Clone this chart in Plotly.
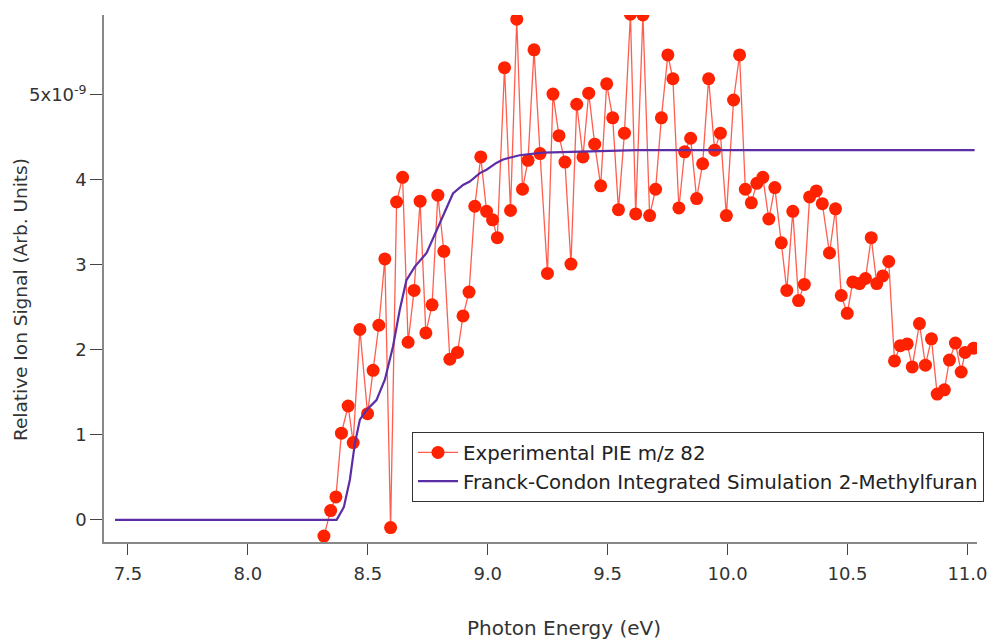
import plotly.graph_objects as go

# Experimental PIE m/z 82 (signal in units of 1e-9)
exp_energy = [8.317, 8.345, 8.367, 8.390, 8.418, 8.439, 8.467, 8.499, 8.522, 8.546,
              8.571, 8.595, 8.620, 8.645, 8.668, 8.693, 8.718, 8.742, 8.768, 8.792,
              8.817, 8.842, 8.874, 8.897, 8.922, 8.946, 8.971, 8.995, 9.020, 9.040,
              9.070, 9.095, 9.121, 9.145, 9.168, 9.193, 9.218, 9.249, 9.272, 9.297,
              9.322, 9.347, 9.371, 9.397, 9.421, 9.446, 9.471, 9.496, 9.521, 9.545,
              9.570, 9.595, 9.617, 9.647, 9.675, 9.700, 9.724, 9.751, 9.772, 9.797,
              9.821, 9.846, 9.871, 9.896, 9.921, 9.946, 9.970, 9.995, 10.025, 10.050,
              10.074, 10.099, 10.122, 10.147, 10.172, 10.197, 10.224, 10.247, 10.272, 10.296,
              10.320, 10.342, 10.370, 10.395, 10.425, 10.450, 10.474, 10.499, 10.522, 10.550,
              10.575, 10.599, 10.622, 10.647, 10.672, 10.696, 10.720, 10.749, 10.770, 10.800,
              10.825, 10.850, 10.874, 10.904, 10.925, 10.950, 10.974, 10.990, 11.026]
exp_signal = [-0.19, 0.11, 0.27, 1.02, 1.34, 0.91, 2.24, 1.25, 1.76, 2.29,
              3.07, -0.09, 3.74, 4.03, 2.09, 2.70, 3.75, 2.20, 2.53, 3.82,
              3.16, 1.89, 1.97, 2.40, 2.68, 3.69, 4.27, 3.63, 3.53, 3.32,
              5.32, 3.64, 5.89, 3.89, 4.23, 5.53, 4.31, 2.90, 5.01, 4.52,
              4.21, 3.01, 4.89, 4.27, 5.02, 4.42, 3.93, 5.13, 4.73, 3.65,
              4.55, 5.95, 3.60, 5.94, 3.58, 3.89, 4.73, 5.47, 5.19, 3.67,
              4.33, 4.49, 3.78, 4.19, 5.19, 4.35, 4.55, 3.58, 4.94, 5.47,
              3.89, 3.73, 3.96, 4.03, 3.54, 3.91, 3.26, 2.70, 3.63, 2.58,
              2.77, 3.80, 3.87, 3.72, 3.14, 3.66, 2.64, 2.43, 2.80, 2.78,
              2.84, 3.32, 2.78, 2.87, 3.04, 1.87, 2.05, 2.07, 1.80, 2.31,
              1.82, 2.13, 1.48, 1.53, 1.88, 2.08, 1.74, 1.97, 2.02]

# Franck-Condon integrated simulation, 2-Methylfuran (units of 1e-9)
sim_energy = [7.446, 8.370, 8.400, 8.425, 8.446, 8.467, 8.494, 8.536, 8.571, 8.605,
              8.633, 8.661, 8.696, 8.745, 8.800, 8.855, 8.897, 8.925, 8.967, 8.995,
              9.036, 9.064, 9.133, 9.230, 9.350, 9.620, 11.030]
sim_signal = [0.0, 0.0, 0.15, 0.47, 0.90, 1.18, 1.29, 1.41, 1.65, 2.04,
              2.47, 2.82, 2.98, 3.14, 3.49, 3.84, 3.94, 3.98, 4.08, 4.12,
              4.20, 4.24, 4.29, 4.32, 4.33, 4.35, 4.35]

scale = 1e-9
y_tickvals = [0, 1, 2, 3, 4, 5]
y_ticktext = ["0", "1", "2", "3", "4", "5x10<sup>-9</sup>"]
x_tickvals = [7.5, 8.0, 8.5, 9.0, 9.5, 10.0, 10.5, 11.0]

FONT = "DejaVu Sans"

fig = go.Figure()
fig.add_trace(go.Scatter(
    x=exp_energy, y=[v * scale for v in exp_signal], mode="lines+markers",
    name="Experimental PIE m/z 82",
    line=dict(color="rgba(255,40,20,0.75)", width=1.3),
    marker=dict(color="#ff2200", size=13, line=dict(width=0)),
))
fig.add_trace(go.Scatter(
    x=sim_energy, y=[v * scale for v in sim_signal], mode="lines",
    name="Franck-Condon Integrated Simulation 2-Methylfuran",
    line=dict(color="#5b2ea6", width=2.2),
))

fig.update_layout(
    width=996, height=642,
    margin=dict(l=96, r=27, t=7, b=108),
    paper_bgcolor="white", plot_bgcolor="white",
    font=dict(family=FONT, size=18, color="#333333"),
    showlegend=True,
    legend=dict(x=0.3528, y=0.2087, xanchor="left", yanchor="top",
                bgcolor="white", bordercolor="#333333", borderwidth=1,
                font=dict(family=FONT, size=19.8, color="#222222"),
                tracegroupgap=0, itemwidth=40),
    xaxis=dict(range=[7.40, 11.04], tickvals=x_tickvals,
               ticktext=[f"{v:.1f}" for v in x_tickvals],
               automargin=False,
               showgrid=False, zeroline=False, showline=True,
               linecolor="#888888", linewidth=1.5,
               ticks="outside", ticklen=11, tickcolor="#444444", tickwidth=1.2,
               ticklabelstandoff=4,
               tickfont=dict(family=FONT, size=18, color="#333333")),
    yaxis=dict(range=[-0.26 * scale, 5.94 * scale],
               tickvals=[v * scale for v in y_tickvals], ticktext=y_ticktext,
               automargin=False,
               showgrid=False, zeroline=False, showline=True,
               linecolor="#888888", linewidth=1.5,
               ticks="outside", ticklen=12, tickcolor="#444444", tickwidth=1.2,
               tickfont=dict(family=FONT, size=18, color="#333333")),
    annotations=[
        dict(text="Relative Ion Signal (Arb. Units)", textangle=-90,
             xref="paper", yref="paper", x=-0.0962, y=0.459,
             xanchor="center", yanchor="middle", showarrow=False,
             font=dict(family=FONT, size=18.5, color="#333333")),
        dict(text="Photon Energy (eV)",
             xref="paper", yref="paper", x=0.527, y=-0.1632,
             xanchor="center", yanchor="middle", showarrow=False,
             font=dict(family=FONT, size=20, color="#333333")),
    ],
)

fig.write_html("out.html")
